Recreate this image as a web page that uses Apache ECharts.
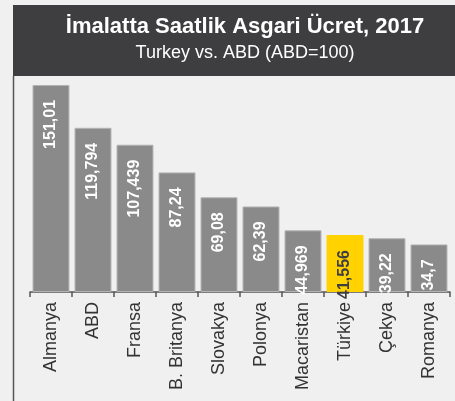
<!DOCTYPE html>
<html>
<head>
<meta charset="utf-8">
<script src="https://cdn.jsdelivr.net/npm/echarts@6/dist/echarts.min.js"></script>
<style>
  html, body { margin: 0; padding: 0; background: #f0f0f0; }
  #chart { width: 455px; height: 401px; }
</style>
</head>
<body>
<div id="chart"></div>
<script>
// Hourly minimum wage in manufacturing, 2017 (USA = 100)
const countries = ['Almanya', 'ABD', 'Fransa', 'B. Britanya', 'Slovakya', 'Polonya', 'Macaristan', 'Türkiye', 'Çekya', 'Romanya'];
const wageIndex = [151.01, 119.794, 107.439, 87.24, 69.08, 62.39, 44.969, 41.556, 39.22, 34.7];
const highlighted = 'Türkiye';

const titleText = 'İmalatta Saatlik Asgari Ücret, 2017';
const subtitleText = 'Turkey vs. ABD (ABD=100)';

const GRAY = '#8a8a8a';
const YELLOW = '#ffd200';
const DARK = '#3e3e40';

const barData = wageIndex.map((v, i) => {
  const hi = countries[i] === highlighted;
  return {
    value: v,
    itemStyle: { color: hi ? YELLOW : GRAY, borderColor: hi ? YELLOW : '#b4b4b4' },
    label: { color: hi ? DARK : '#ffffff' }
  };
});

const chart = echarts.init(document.getElementById('chart'), null, { renderer: 'canvas' });
chart.setOption({
  backgroundColor: '#f0f0f0',
  animation: false,
  graphic: [
    { type: 'rect', shape: { x: 13, y: 5, width: 442, height: 71 }, style: { fill: DARK }, z: 0 },
    { type: 'line', shape: { x1: 13.5, y1: 76, x2: 13.5, y2: 401 }, style: { stroke: '#555555', lineWidth: 1.5 }, z: 0 }
  ],
  title: {
    text: titleText,
    subtext: subtitleText,
    left: 240,
    textAlign: 'center',
    top: 11,
    itemGap: 6,
    textStyle: { color: '#ffffff', fontFamily: 'Liberation Sans', fontWeight: 'bold', fontSize: 22 },
    subtextStyle: { color: '#ffffff', fontFamily: 'Liberation Sans', fontWeight: 'normal', fontSize: 18 }
  },
  grid: { left: 30, right: 5, top: 79.5, bottom: 109, containLabel: false },
  xAxis: {
    type: 'category',
    data: countries,
    axisLine: { show: true, lineStyle: { color: '#555555', width: 1.5 } },
    axisTick: { show: true, length: 5, lineStyle: { color: '#555555', width: 1.5 } },
    axisLabel: {
      rotate: 90,
      margin: 10,
      interval: 0,
      color: '#333333',
      fontFamily: 'Liberation Sans',
      fontSize: 18
    }
  },
  yAxis: {
    type: 'value',
    min: 0,
    max: 155,
    show: false,
    splitLine: { show: false }
  },
  series: [{
    type: 'bar',
    data: barData,
    barCategoryGap: '12%',
    itemStyle: { borderWidth: 1 },
    label: {
      show: true,
      position: 'insideTop',
      rotate: 90,
      align: 'right',
      verticalAlign: 'middle',
      distance: 15,
      fontFamily: 'Liberation Sans',
      fontWeight: 'bold',
      fontSize: 16,
      formatter: p => String(p.value).replace('.', ',')
    }
  }]
});
</script>
</body>
</html>
